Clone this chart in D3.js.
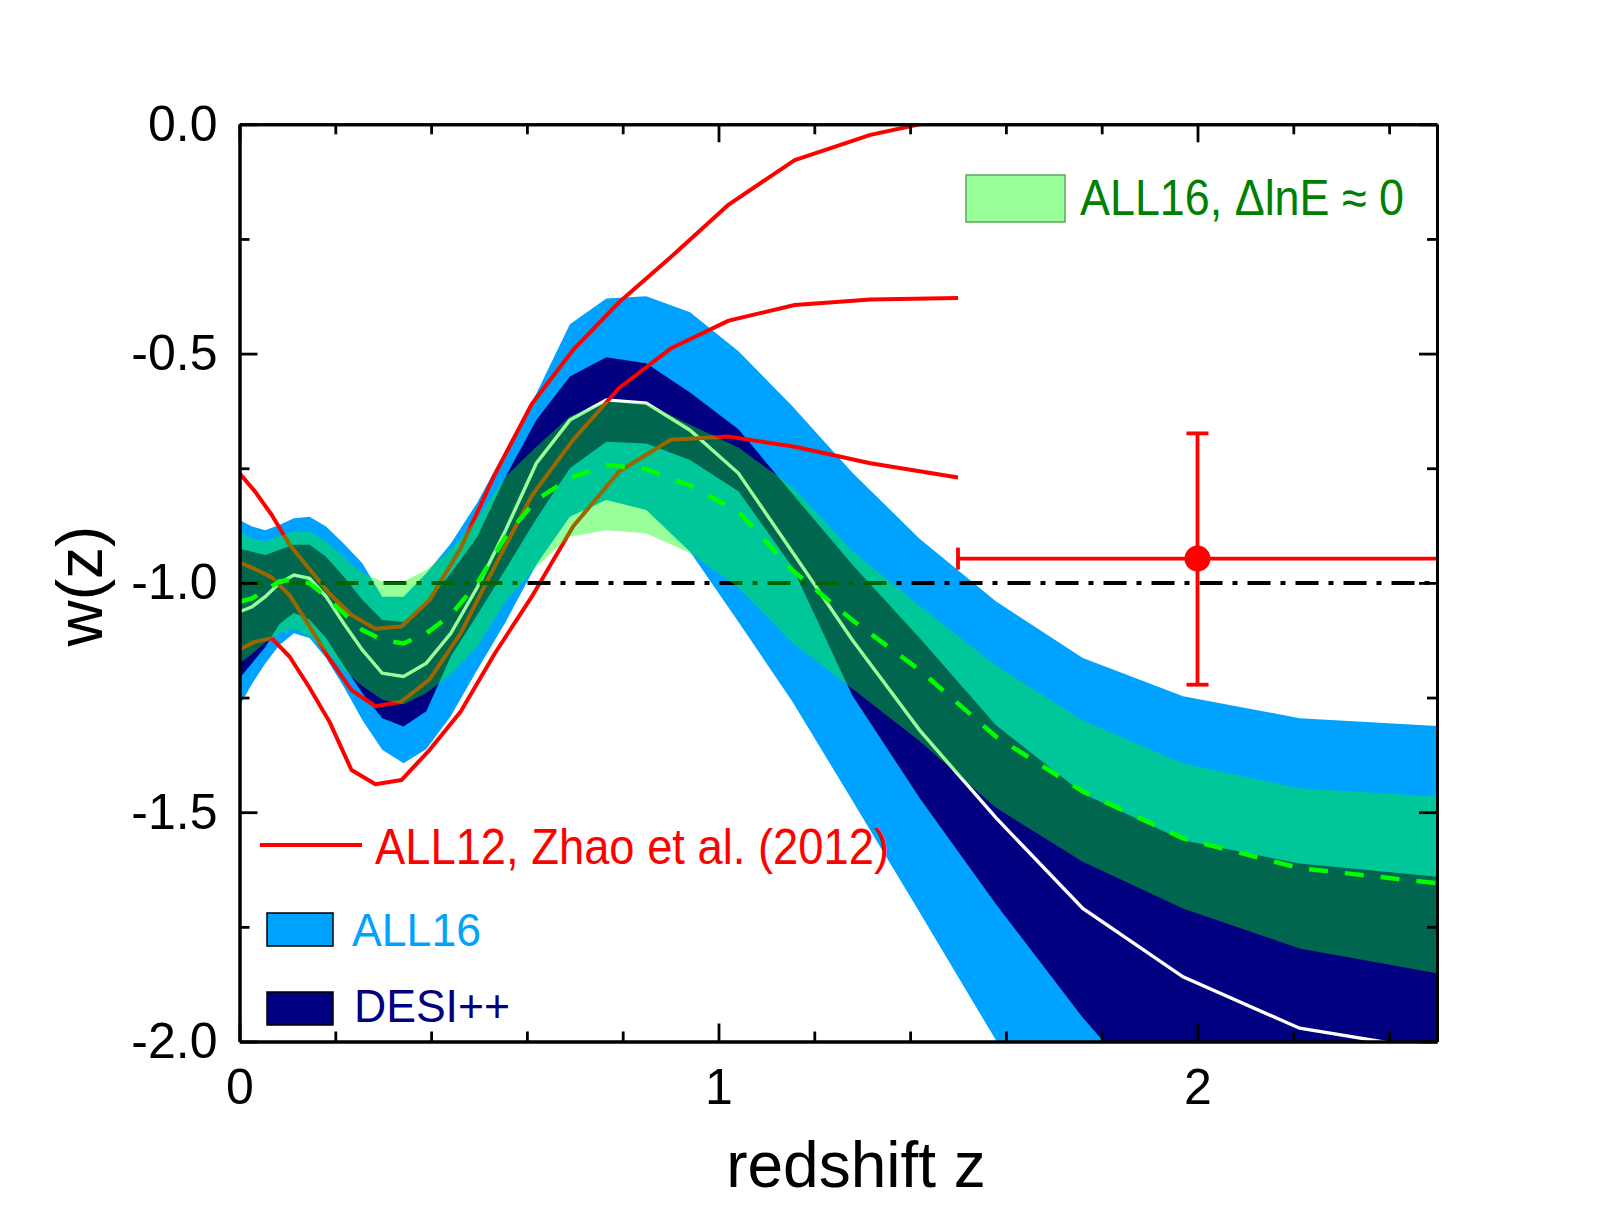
<!DOCTYPE html>
<html><head><meta charset="utf-8">
<script src="https://cdn.jsdelivr.net/npm/d3@7"></script>
<style>
body{margin:0;background:#fff;}
svg{display:block;font-family:"Liberation Sans",Arial,Helvetica,sans-serif;}
</style>
</head><body>
<svg id="c" width="1598" height="1225"></svg>
<script>
// ---------------- data ----------------
// redshift knots of the ALL16 / DESI++ reconstructions
const zBands = [0, 0.0262, 0.0538, 0.0829, 0.1136, 0.1462, 0.1807, 0.2174, 0.2564, 0.2980, 0.3425, 0.3901, 0.4412, 0.4962, 0.5556, 0.6198, 0.6897, 0.7658, 0.8491, 0.9406, 1.0417, 1.1538, 1.2791, 1.4198, 1.5790, 1.7606, 1.9697, 2.2131, 2.5];
// ALL16 band (light blue)
const all16Upper = [-0.863, -0.877, -0.885, -0.874, -0.859, -0.856, -0.877, -0.914, -0.957, -1.030, -1.030, -0.979, -0.914, -0.825, -0.710, -0.587, -0.436, -0.380, -0.375, -0.410, -0.495, -0.614, -0.759, -0.904, -1.040, -1.164, -1.247, -1.295, -1.312];
const all16Lower = [-1.268, -1.220, -1.176, -1.136, -1.110, -1.120, -1.164, -1.226, -1.299, -1.364, -1.393, -1.362, -1.290, -1.190, -1.085, -0.960, -0.856, -0.819, -0.841, -0.932, -1.085, -1.258, -1.474, -1.718, -1.997, -2.450, -2.900, -3.300, -3.600];
// DESI++ band (navy)
const desiUpper = [-0.925, -0.932, -0.939, -0.928, -0.917, -0.917, -0.943, -0.986, -1.037, -1.081, -1.085, -1.045, -0.979, -0.900, -0.768, -0.645, -0.550, -0.508, -0.521, -0.585, -0.665, -0.805, -0.960, -1.120, -1.310, -1.459, -1.561, -1.612, -1.641];
const desiLower = [-1.208, -1.175, -1.140, -1.090, -1.065, -1.080, -1.120, -1.180, -1.240, -1.295, -1.313, -1.280, -1.160, -1.070, -0.970, -0.860, -0.750, -0.692, -0.696, -0.732, -0.800, -0.965, -1.245, -1.469, -1.700, -1.948, -2.200, -2.450, -2.700];
// DESI++ fiducial (white line)
const desiFiducial = [-1.063, -1.052, -1.030, -1.001, -0.983, -0.990, -1.030, -1.088, -1.146, -1.197, -1.204, -1.175, -1.110, -1.010, -0.885, -0.739, -0.645, -0.601, -0.608, -0.667, -0.761, -0.932, -1.124, -1.321, -1.512, -1.710, -1.859, -1.971, -2.020];
// ALL16, dlnE ~ 0 band (green, translucent) and its mean (dashed)
const dlnEUpper = [-0.888, -0.903, -0.910, -0.899, -0.888, -0.888, -0.910, -0.943, -0.979, -0.997, -0.997, -0.972, -0.928, -0.860, -0.768, -0.703, -0.637, -0.605, -0.608, -0.655, -0.705, -0.790, -0.930, -1.050, -1.180, -1.300, -1.394, -1.448, -1.466];
const dlnELower = [-1.175, -1.155, -1.130, -1.110, -1.100, -1.115, -1.150, -1.190, -1.225, -1.255, -1.265, -1.240, -1.200, -1.140, -1.040, -0.965, -0.899, -0.885, -0.892, -0.935, -1.010, -1.130, -1.230, -1.345, -1.490, -1.608, -1.710, -1.797, -1.851];
const dlnEMean  = [-1.041, -1.034, -1.016, -0.997, -0.992, -1.001, -1.030, -1.066, -1.103, -1.124, -1.132, -1.110, -1.070, -1.001, -0.899, -0.819, -0.772, -0.743, -0.752, -0.788, -0.845, -0.972, -1.081, -1.190, -1.335, -1.455, -1.557, -1.622, -1.655];
// ALL12, Zhao et al. (2012)
const zAll12 = [0, 0.0326, 0.0674, 0.1047, 0.1446, 0.1875, 0.2338, 0.2838, 0.3380, 0.3971, 0.4615, 0.5323, 0.6102, 0.6964, 0.7925, 0.9000, 1.0213, 1.1591, 1.3171, 1.5];
const all12Upper = [-0.761, -0.801, -0.852, -0.917, -0.968, -1.023, -1.070, -1.100, -1.095, -1.037, -0.925, -0.765, -0.610, -0.492, -0.388, -0.290, -0.175, -0.078, -0.023, 0.018];
const all12Mean  = [-0.955, -0.970, -0.988, -1.027, -1.092, -1.165, -1.234, -1.269, -1.259, -1.210, -1.110, -0.965, -0.810, -0.688, -0.575, -0.489, -0.428, -0.394, -0.382, -0.379];
const all12Lower = [-1.145, -1.128, -1.121, -1.161, -1.226, -1.302, -1.408, -1.439, -1.430, -1.364, -1.281, -1.155, -1.030, -0.877, -0.757, -0.688, -0.681, -0.703, -0.739, -0.770];
// high-z data point with error bars
const pointZ = [2.0], pointW = [-0.947];
const pointZLow = [1.5], pointZHigh = [2.5];
const pointWLow = [-1.222], pointWHigh = [-0.674];
// axes
const xMajorTicks = [0, 1, 2];
const xMinorTicks = [0.2, 0.4, 0.6, 0.8, 1.2, 1.4, 1.6, 1.8, 2.2, 2.4];
const yMajorTicks = [0, -0.5, -1.0, -1.5, -2.0];
const yMinorTicks = [-0.25, -0.75, -1.25, -1.75];
const wLCDM = [-1];

// ---------------- drawing ----------------
const m = {l: 239.5, r: 1437, t: 124.3, b: 1041.5};
const x = d3.scaleLinear().domain([0, 2.5]).range([m.l, m.r]);
const y = d3.scaleLinear().domain([-2, 0]).range([m.b, m.t]);
const svg = d3.select("#c");

svg.append("defs").append("clipPath").attr("id", "clip")
  .append("rect").attr("x", m.l).attr("y", m.t).attr("width", m.r - m.l).attr("height", m.b - m.t);
const g = svg.append("g").attr("clip-path", "url(#clip)");

const band = (zs, lo, hi) => d3.area()
  .x((d, i) => x(zs[i])).y0((d, i) => y(lo[i])).y1((d, i) => y(hi[i]))(zs);
const curve = (zs, ws) => d3.line().x((d, i) => x(zs[i])).y(d => y(d))(ws);

// ALL16 band
g.append("path").attr("d", band(zBands, all16Lower, all16Upper)).attr("fill", "#00a2ff");
// DESI++ band
g.append("path").attr("d", band(zBands, desiLower, desiUpper)).attr("fill", "#000080");
// DESI++ fiducial
g.append("path").attr("d", curve(zBands, desiFiducial)).attr("fill", "none")
  .attr("stroke", "#ffffff").attr("stroke-width", 3.4);
// ALL12 lines
[all12Upper, all12Mean, all12Lower].forEach(s => {
  g.append("path").attr("d", curve(zAll12, s)).attr("fill", "none")
    .attr("stroke", "#ff0000").attr("stroke-width", 4).attr("stroke-linejoin", "round");
});
// w = -1 line
g.append("line").attr("x1", x(0)).attr("x2", x(2.5)).attr("y1", y(wLCDM[0])).attr("y2", y(wLCDM[0]))
  .attr("stroke", "#000").attr("stroke-width", 4).attr("stroke-dasharray", "23,10,5,10");
// dlnE ~ 0 band (translucent green)
g.append("path").attr("d", band(zBands, dlnELower, dlnEUpper)).attr("fill", "#00ff00").attr("fill-opacity", 0.4);
// dlnE mean dashed
g.append("path").attr("d", curve(zBands, dlnEMean)).attr("fill", "none")
  .attr("stroke", "#00ff00").attr("stroke-width", 4.5).attr("stroke-dasharray", "19,17");

// error bar point
const eb = svg.append("g").attr("stroke", "#ff0000").attr("stroke-width", 3.8).attr("fill", "none");
pointZ.forEach((pz, i) => {
  eb.append("line").attr("x1", x(pointZLow[i])).attr("x2", x(pointZHigh[i])).attr("y1", y(pointW[i])).attr("y2", y(pointW[i]));
  eb.append("line").attr("x1", x(pointZLow[i])).attr("x2", x(pointZLow[i])).attr("y1", y(pointW[i]) - 11).attr("y2", y(pointW[i]) + 11);
  eb.append("line").attr("x1", x(pz)).attr("x2", x(pz)).attr("y1", y(pointWLow[i])).attr("y2", y(pointWHigh[i]));
  eb.append("line").attr("x1", x(pz) - 11).attr("x2", x(pz) + 11).attr("y1", y(pointWLow[i])).attr("y2", y(pointWLow[i]));
  eb.append("line").attr("x1", x(pz) - 11).attr("x2", x(pz) + 11).attr("y1", y(pointWHigh[i])).attr("y2", y(pointWHigh[i]));
  svg.append("circle").attr("cx", x(pz)).attr("cy", y(pointW[i])).attr("r", 13).attr("fill", "#ff0000");
});

// ---------------- axes ----------------
function styleAxis(sel) {
  sel.selectAll(".domain").attr("stroke", "#000").attr("stroke-width", 3);
  sel.selectAll(".tick line").attr("stroke", "#000").attr("stroke-width", 2.8);
  sel.selectAll("text").attr("font-size", 50).attr("fill", "#000")
    .attr("font-family", "'Liberation Sans', Arial, sans-serif");
}
const fmtY = d => d3.format(".1f")(d).replace("−", "-");
// bottom
svg.append("g").attr("transform", `translate(0,${m.b})`)
  .call(d3.axisBottom(x).tickValues(xMinorTicks).tickSizeInner(-10).tickSizeOuter(0).tickFormat("")).call(styleAxis);
svg.append("g").attr("transform", `translate(0,${m.b})`)
  .call(d3.axisBottom(x).tickValues(xMajorTicks).tickSizeInner(-18).tickSizeOuter(0).tickPadding(27).tickFormat(d3.format("d"))).call(styleAxis);
// top
svg.append("g").attr("transform", `translate(0,${m.t})`)
  .call(d3.axisTop(x).tickValues(xMinorTicks).tickSizeInner(-10).tickSizeOuter(0).tickFormat("")).call(styleAxis);
svg.append("g").attr("transform", `translate(0,${m.t})`)
  .call(d3.axisTop(x).tickValues(xMajorTicks).tickSizeInner(-18).tickSizeOuter(0).tickFormat("")).call(styleAxis);
// left
svg.append("g").attr("transform", `translate(${m.l},0)`)
  .call(d3.axisLeft(y).tickValues(yMinorTicks).tickSizeInner(-10).tickSizeOuter(0).tickFormat("")).call(styleAxis);
svg.append("g").attr("transform", `translate(${m.l},0)`)
  .call(d3.axisLeft(y).tickValues(yMajorTicks).tickSizeInner(-18).tickSizeOuter(0).tickPadding(22).tickFormat(fmtY)).call(styleAxis);
// right
svg.append("g").attr("transform", `translate(${m.r},0)`)
  .call(d3.axisRight(y).tickValues(yMinorTicks).tickSizeInner(-10).tickSizeOuter(0).tickFormat("")).call(styleAxis);
svg.append("g").attr("transform", `translate(${m.r},0)`)
  .call(d3.axisRight(y).tickValues(yMajorTicks).tickSizeInner(-18).tickSizeOuter(0).tickFormat("")).call(styleAxis);

// axis titles
svg.append("text").attr("x", 856).attr("y", 1187).attr("text-anchor", "middle")
  .attr("font-size", 64).attr("fill", "#000").text("redshift z");
svg.append("text").attr("transform", "translate(102,586) rotate(-90)").attr("text-anchor", "middle")
  .attr("font-size", 64).attr("fill", "#000").text("w(z)");

// ---------------- legend ----------------
// dlnE swatch
svg.append("rect").attr("x", 966).attr("y", 175).attr("width", 99).attr("height", 47)
  .attr("fill", "#99ff99").attr("stroke", "#5fa65f").attr("stroke-width", 1.5);
svg.append("text").attr("x", 1080).attr("y", 215).attr("font-size", 50).attr("fill", "#008000")
  .attr("textLength", 324).attr("lengthAdjust", "spacingAndGlyphs").text("ALL16, ΔlnE ≈ 0");
// ALL12
svg.append("line").attr("x1", 260).attr("x2", 362).attr("y1", 845).attr("y2", 845)
  .attr("stroke", "#ff0000").attr("stroke-width", 4);
svg.append("text").attr("x", 375).attr("y", 864).attr("font-size", 50).attr("fill", "#ff0000")
  .attr("textLength", 514).attr("lengthAdjust", "spacingAndGlyphs").text("ALL12, Zhao et al. (2012)");
// ALL16
svg.append("rect").attr("x", 267).attr("y", 913).attr("width", 66).attr("height", 33)
  .attr("fill", "#00a2ff").attr("stroke", "#000").attr("stroke-width", 1.5);
svg.append("text").attr("x", 352).attr("y", 946).attr("font-size", 47).attr("fill", "#00a2ff")
  .attr("textLength", 129).attr("lengthAdjust", "spacingAndGlyphs").text("ALL16");
// DESI++
svg.append("rect").attr("x", 267).attr("y", 992).attr("width", 66).attr("height", 33)
  .attr("fill", "#000080").attr("stroke", "#000").attr("stroke-width", 1.5);
svg.append("text").attr("x", 354).attr("y", 1022).attr("font-size", 46).attr("fill", "#000080")
  .attr("textLength", 156).attr("lengthAdjust", "spacingAndGlyphs").text("DESI++");
</script>
</body></html>
